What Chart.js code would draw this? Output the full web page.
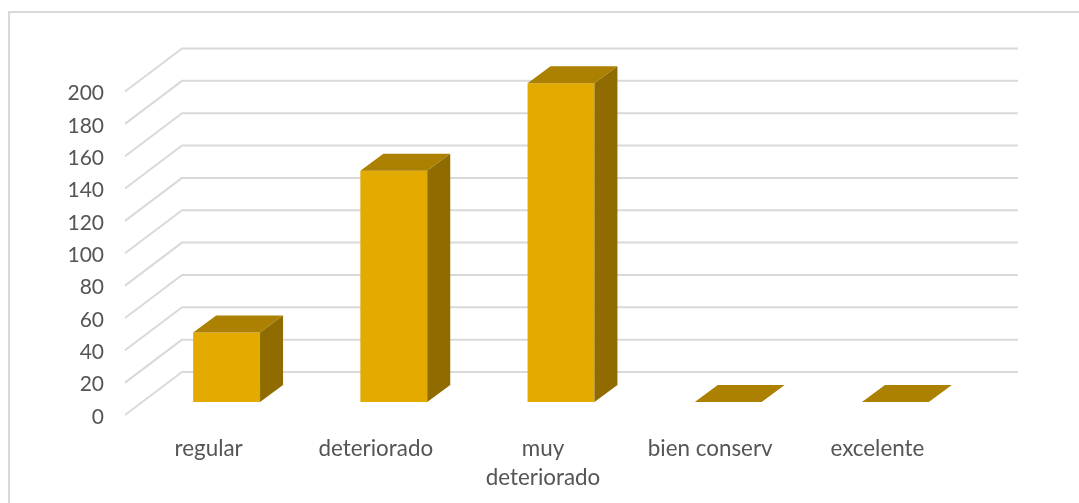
<!DOCTYPE html>
<html>
<head>
<meta charset="utf-8">
<script src="https://cdn.jsdelivr.net/npm/chart.js@4/dist/chart.umd.min.js"></script>
<style>
  html, body { margin: 0; padding: 0; background: #fff; overflow: hidden; }
  canvas { display: block; }
</style>
</head>
<body>
<canvas id="grafico" width="1079" height="503"></canvas>
<script>
const categorias = ["regular", "deteriorado", ["muy", "deteriorado"], "bien conserv", "excelente"];
const valores = [43, 143, 197, 0, 0];
const maximo = 200;
const paso = 20;

// Profundidad del efecto 3D
const fondoX = 57, fondoY = -43;     // pared del fondo respecto al plano frontal
const barraX = 18, barraY = -13;     // cara frontal de la barra
const ladoX = 23, ladoY = -17;       // grosor de la barra

function poligono(ctx, puntos, color) {
  ctx.fillStyle = color;
  ctx.beginPath();
  puntos.forEach((p, i) => i ? ctx.lineTo(p[0], p[1]) : ctx.moveTo(p[0], p[1]));
  ctx.closePath();
  ctx.fill();
}

// Marco: los bordes derecho e inferior quedan fuera de la imagen
const marco = {
  id: "marco",
  beforeDraw(chart) {
    const ctx = chart.ctx;
    ctx.save();
    ctx.strokeStyle = "#d9d9d9";
    ctx.lineWidth = 2;
    ctx.strokeRect(9, 12, 1100, 520);
    ctx.restore();
  }
};

const rejilla = {
  id: "rejilla",
  beforeDatasetsDraw(chart) {
    const ctx = chart.ctx, y = chart.scales.y, area = chart.chartArea;
    ctx.save();
    ctx.strokeStyle = "#d9d9d9";
    ctx.lineWidth = 2;
    ctx.lineJoin = "round";
    y.ticks.forEach(t => {
      const py = y.getPixelForValue(t.value);
      ctx.beginPath();
      ctx.moveTo(area.left, py);
      ctx.lineTo(area.left + fondoX, py + fondoY);
      ctx.lineTo(area.right + fondoX, py + fondoY);
      ctx.stroke();
    });
    ctx.restore();
  }
};

const barras3d = {
  id: "barras3d",
  beforeDatasetsDraw(chart) {
    chart.ctx.save();
    chart.ctx.translate(barraX, barraY);
  },
  afterDatasetsDraw(chart) {
    const ctx = chart.ctx;
    chart.getDatasetMeta(0).data.forEach(b => {
      const izq = b.x - b.width / 2, der = b.x + b.width / 2, arr = b.y, aba = b.base;
      poligono(ctx, [[izq, arr], [der, arr], [der + ladoX, arr + ladoY], [izq + ladoX, arr + ladoY]], "#ac8000");
      if (aba - arr > 0) {
        poligono(ctx, [[der, arr], [der + ladoX, arr + ladoY], [der + ladoX, aba + ladoY], [der, aba]], "#8f6b00");
      }
    });
    ctx.restore();
  }
};

new Chart(document.getElementById("grafico"), {
  type: "bar",
  data: {
    labels: categorias,
    datasets: [{
      data: valores,
      backgroundColor: "#e3ab00",
      barPercentage: 0.4,
      categoryPercentage: 1,
      clip: false
    }]
  },
  options: {
    responsive: false,
    animation: false,
    layout: { padding: { left: 0, right: 118, top: 91.5, bottom: 0 } },
    plugins: { legend: { display: false }, tooltip: { enabled: false } },
    scales: {
      x: {
        grid: { display: false },
        border: { display: false },
        afterFit(s) { s.height = 88; },
        ticks: {
          color: "#555555",
          padding: 11,
          maxRotation: 0,
          autoSkip: false,
          font: { family: "Lato", size: 22.4, lineHeight: 1.3 }
        }
      },
      y: {
        min: 0,
        max: maximo,
        grid: { display: false },
        border: { display: false },
        afterFit(s) { s.width = 125; },
        ticks: {
          stepSize: paso,
          color: "#555555",
          padding: 13,
          labelOffset: 2,
          font: { family: "Lato", size: 21 }
        }
      }
    }
  },
  plugins: [marco, rejilla, barras3d]
});
</script>
</body>
</html>
